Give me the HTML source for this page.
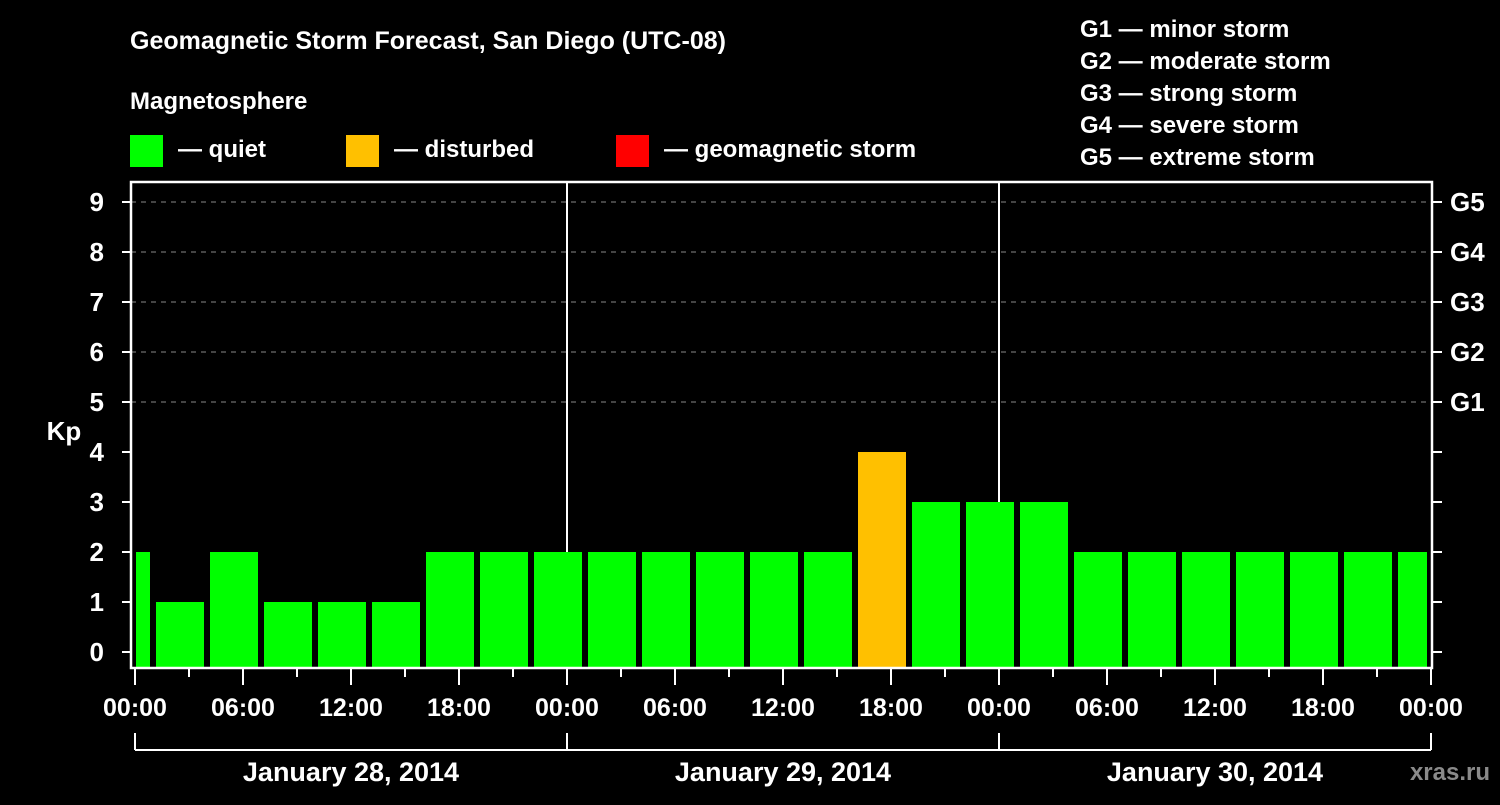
<!DOCTYPE html>
<html><head><meta charset="utf-8"><style>
body{margin:0;background:#000;width:1500px;height:800px;overflow:hidden}
svg text{font-family:"Liberation Sans",Arial,sans-serif;font-weight:bold;fill:#fff}
</style></head><body>
<svg id="chart" width="1500" height="800" viewBox="0 0 1500 800" xmlns="http://www.w3.org/2000/svg">
<rect width="1500" height="800" fill="#000"/>
<text x="130" y="49" font-size="25">Geomagnetic Storm Forecast, San Diego (UTC-08)</text>
<text x="130" y="109" font-size="24">Magnetosphere</text>
<g><rect x="130" y="135" width="33" height="32" fill="#00ff00"/><text x="178" y="157" font-size="24">— quiet</text></g>
<g><rect x="346" y="135" width="33" height="32" fill="#ffc000"/><text x="394" y="157" font-size="24">— disturbed</text></g>
<g><rect x="616" y="135" width="33" height="32" fill="#ff0000"/><text x="664" y="157" font-size="24">— geomagnetic storm</text></g>
<g font-size="24">
<text x="1080" y="37">G1 — minor storm</text>
<text x="1080" y="69">G2 — moderate storm</text>
<text x="1080" y="101">G3 — strong storm</text>
<text x="1080" y="133">G4 — severe storm</text>
<text x="1080" y="165">G5 — extreme storm</text>
</g>
<g id="grid"></g>
<g id="bars"></g>
<g id="axes"></g>
<text x="64" y="440" font-size="26" text-anchor="middle">Kp</text>
<text x="1490" y="780" font-size="24" text-anchor="end" fill="#888" style="fill:#8a8a8a">xras.ru</text>
</svg>
<script>
const kpValues=[2,1,2,1,1,1,2,2,2,2,2,2,2,2,4,3,3,3,2,2,2,2,2,2,2];
const yTicks=[0,1,2,3,4,5,6,7,8,9];
const gLabels=["G1","G2","G3","G4","G5"];
const gLevels=[5,6,7,8,9];
const dayLabels=["January 28, 2014","January 29, 2014","January 30, 2014"];
const hourLabels=["00:00","06:00","12:00","18:00"];
const NS="http://www.w3.org/2000/svg";
const L=131,R=1432,T=182,B=668,X0=135,PXH=18;
const x=h=>X0+h*PXH;
const y=v=>652-v*50;
function mk(tag,attrs,parent){const e=document.createElementNS(NS,tag);for(const k in attrs)e.setAttribute(k,attrs[k]);parent.appendChild(e);return e;}
const grid=document.getElementById('grid'),bars=document.getElementById('bars'),axes=document.getElementById('axes');
gLevels.forEach((lv,i)=>{
 const l=mk('line',{x1:L,x2:R,y1:y(lv),y2:y(lv),stroke:'#888','stroke-dasharray':'5,5','stroke-width':1},grid);
 
 
 const t=mk('text',{x:1450,y:y(lv)+9,'font-size':26},axes);t.textContent=gLabels[i];
 
 
});
mk('line',{x1:567,x2:567,y1:T,y2:B,stroke:'#fff','stroke-width':2},grid);
mk('line',{x1:999,x2:999,y1:T,y2:B,stroke:'#fff','stroke-width':2},grid);
kpValues.forEach((v,k)=>{
 const c=x(-0.5+3*k);let x1=c-24,x2=c+24;
 x1=Math.max(x1,L+5);x2=Math.min(x2,R-5);
 const col=v>=5?'#ff0000':(v>=4?'#ffc000':'#00ff00');
 const r=mk('rect',{x:x1,y:y(v),width:x2-x1,height:B-1-y(v),fill:col},bars);
 
 
});
const fr=mk('rect',{x:L,y:T,width:R-L,height:B-T,fill:'none',stroke:'#fff','stroke-width':2.5},axes);


yTicks.forEach(v=>{
 mk('line',{x1:122,x2:L,y1:y(v),y2:y(v),stroke:'#fff','stroke-width':2},axes);
 mk('line',{x1:R,x2:1442,y1:y(v),y2:y(v),stroke:'#fff','stroke-width':2},axes);
 const t=mk('text',{x:104,y:y(v)+9,'font-size':26,'text-anchor':'end'},axes);t.textContent=v;
 
 
});
for(let h=0;h<=72;h+=3){
 const major=h%6===0;
 mk('line',{x1:x(h),x2:x(h),y1:B,y2:major?685:677,stroke:'#fff','stroke-width':2},axes);
 if(major){const t=mk('text',{x:x(h),y:716,'font-size':25,'text-anchor':'middle'},axes);t.textContent=hourLabels[(h/6)%4];
 
 }
}
mk('line',{x1:X0,x2:x(72),y1:750,y2:750,stroke:'#fff','stroke-width':2},axes);
for(let d=0;d<=3;d++) mk('line',{x1:x(24*d),x2:x(24*d),y1:733,y2:750,stroke:'#fff','stroke-width':2},axes);
dayLabels.forEach((s,d)=>{const t=mk('text',{x:x(24*d+12),y:781,'font-size':27,'text-anchor':'middle'},axes);t.textContent=s;
 
 });
</script>
</body></html>
